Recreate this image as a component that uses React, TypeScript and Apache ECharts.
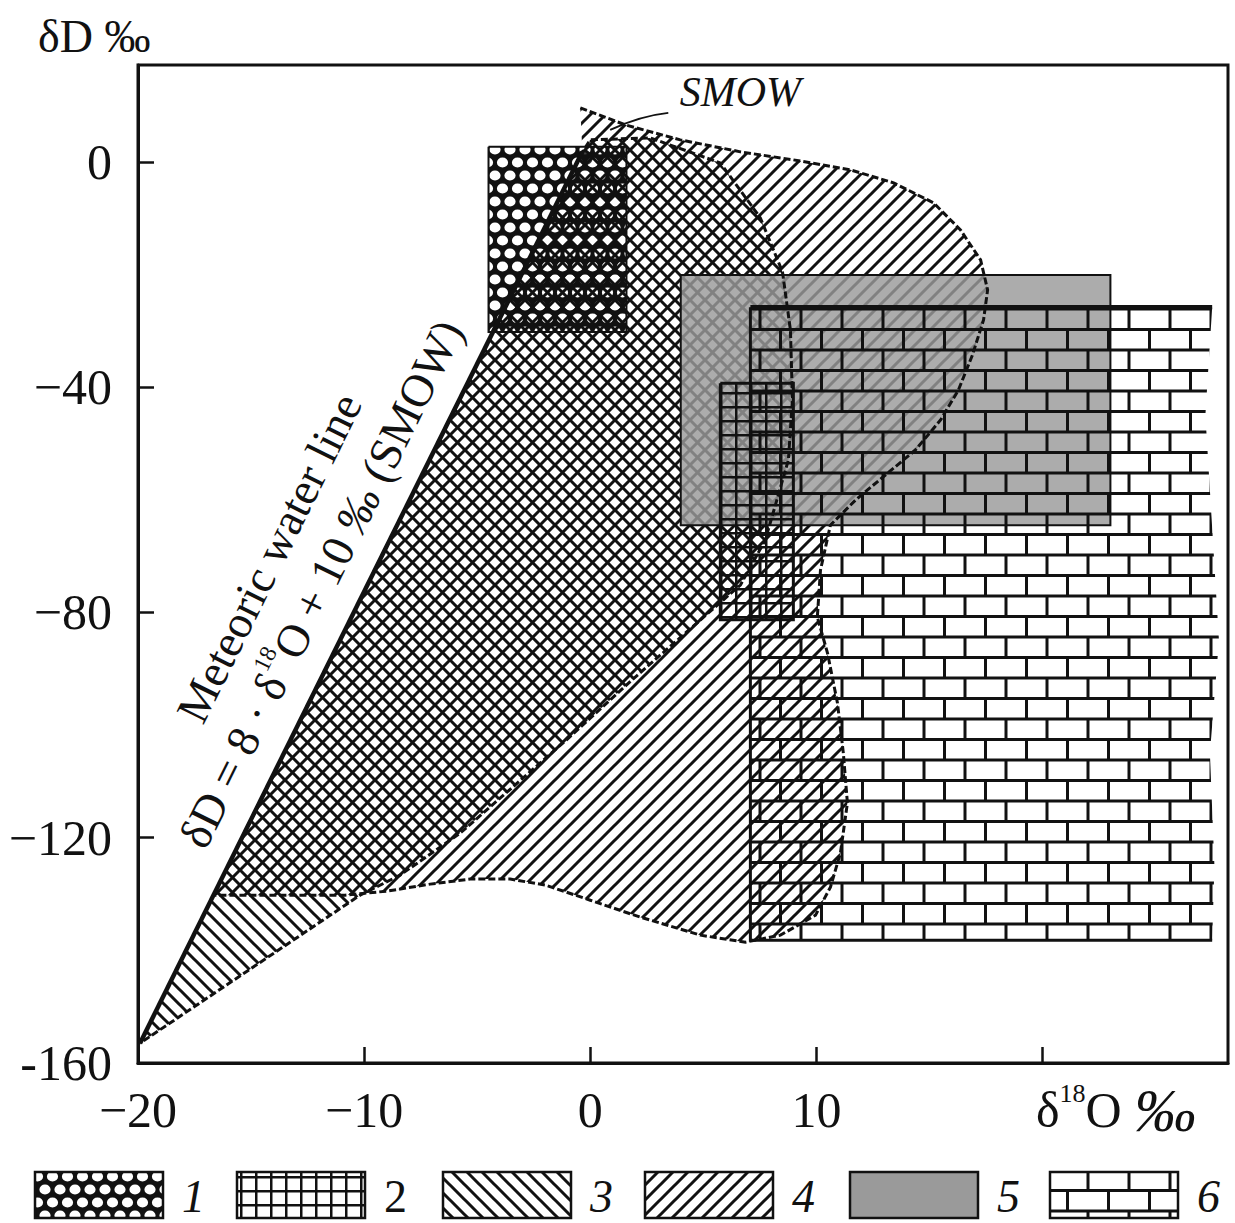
import React, { useEffect, useRef } from 'react';
import * as echarts from 'echarts';

// ---------- data (δ18O ‰, δD ‰) ----------
const xTickValues = [-20, -10, 0, 10];
const yTickValues = [0, -40, -80, -120, -160];
const yTickLabels = ['0', '−40', '−80', '−120', '-160'];

const meteoricLine = [[-19.91, -156.48], [-0.35, 1.78]];
const smowPoint = [[-0.2, 0.7]];

const region1Box = [[-4.5, 2.7], [1.6, 2.7], [1.6, -30.2], [-4.5, -30.2]];
const region2Box = [[5.75, -39.3], [8.98, -39.3], [8.98, -81.3], [5.75, -81.3]];
const region3Outline = [
  [-19.91, -156.48], [-0.35, 1.78], [0, 3.91], [2.65, 4.26], [5.75, -0.18], [7.52, -9.95],
  [8.5, -19.54], [8.85, -29.84], [8.94, -42.27], [8.76, -52.93], [7.74, -67.14], [6.64, -75.13],
  [5.62, -78.69], [1.99, -91.47], [-1.06, -102.66], [-5.75, -119.18], [-8.41, -126.64], [-10.18, -130.2],
];
const region4Outline = [
  [-0.44, 9.59], [1.55, 6.57], [3.98, 3.91], [6.64, 1.78], [8.98, 0.36], [11.5, -1.42],
  [13.41, -3.73], [15.18, -7.28], [16.37, -12.08], [17.26, -17.41], [17.57, -22.74], [17.39, -28.06],
  [16.9, -34.28], [16.28, -40.5], [15.49, -45.83], [14.38, -51.15], [13.05, -55.6], [11.73, -60.04],
  [10.62, -64.48], [10.18, -72.47], [10.04, -80.82], [10.49, -87.21], [10.93, -96.09], [11.19, -104.97],
  [11.37, -113.85], [11.06, -122.74], [10.62, -128.77], [9.96, -133.75], [8.41, -137.3], [6.86, -138.54],
  [4.87, -137.3], [2.21, -134.1], [0, -131.1], [-1.99, -128.4], [-3.54, -127.35], [-5.31, -127.35],
  [-7.08, -128.24], [-8.98, -129.48], [-10.84, -130.2], [-16.66, -130.2], [-0.35, 1.78],
];
const region5Box = [[4.0, -20.1], [23.0, -20.1], [23.0, -64.5], [4.0, -64.5]];
const region6Outline = [
  [7.08, -25.8], [27.5, -25.8], [27.2, -45], [27.5, -65], [27.8, -85], [27.4, -105],
  [27.6, -125], [27.5, -138.2], [7.08, -138.2],
];
const region6Top = [[27.5, -25.8], [7.08, -25.8]];
const region6LeftBottom = [[7.08, -25.8], [7.08, -138.2], [27.5, -138.2]];

const smowLabelPos = [6.64, 12.4];
const smowLeader = [[3.45, 8.7], [2.21, 8.17], [0.88, 5.68]];
const meteoricLabelPos = [-13.05, -72.6];

const legendLabels = ['1', '2', '3', '4', '5', '6'];

// ---------- styling helpers ----------
const SERIF = '"Liberation Serif", "DejaVu Serif", serif';
const INK = '#111';
const GRAY = '#9a9a9a';

function svgPattern(w: number, h: number, body: string) {
  const svg = `<svg xmlns="http://www.w3.org/2000/svg" width="${w}" height="${h}" viewBox="0 0 ${w} ${h}">${body}</svg>`;
  return {
    image: 'data:image/svg+xml;charset=utf-8,' + encodeURIComponent(svg),
    repeat: 'repeat',
    imageWidth: w,
    imageHeight: h,
  };
}
const ell = (cx: number, cy: number, rx: number, ry: number) =>
  `M${cx - rx} ${cy}a${rx} ${ry} 0 1 0 ${2 * rx} 0a${rx} ${ry} 0 1 0 ${-2 * rx} 0Z`;

const pat1 = () =>
  svgPattern(
    15, 26,
    `<path fill="${INK}" fill-rule="evenodd" d="M0 0H15V26H0Z ${ell(7.5, 6.5, 5.6, 5.1)} ${ell(0, 19.5, 5.6, 5.1)} ${ell(15, 19.5, 5.6, 5.1)}"/>`,
  );
const pat2 = () =>
  svgPattern(15, 14, `<path stroke="${INK}" stroke-width="2.5" fill="none" d="M0 1.25H15M1.25 0V14"/>`);
const pat3 = () =>
  svgPattern(15, 15, `<path stroke="${INK}" stroke-width="3" fill="none" d="M-1 -1L16 16M-2 13L2 17M13 -2L17 2"/>`);
const pat4 = () =>
  svgPattern(15, 15, `<path stroke="${INK}" stroke-width="3" fill="none" d="M-1 16L16 -1M-2 2L2 -2M13 17L17 13"/>`);
const pat6 = () =>
  svgPattern(82, 41, `<path stroke="${INK}" stroke-width="3" fill="none" d="M0 1.5H82M0 22H82M1.5 0V22M42.5 0V22M22 22V41M63 22V41"/>`);

function polygonSeries(pts: number[][], style: any) {
  return {
    type: 'custom',
    coordinateSystem: 'cartesian2d',
    silent: true,
    clip: false,
    z: 2,
    data: [pts[0]],
    renderItem: (_p: any, api: any) => ({
      type: 'polygon',
      shape: { points: pts.map((p) => api.coord(p)) },
      style,
    }),
  };
}
function polylineSeries(pts: number[][], style: any) {
  return {
    type: 'custom',
    coordinateSystem: 'cartesian2d',
    silent: true,
    clip: false,
    z: 3,
    data: [pts[0]],
    renderItem: (_p: any, api: any) => ({
      type: 'polyline',
      shape: { points: pts.map((p) => api.coord(p)) },
      style: { fill: 'none', ...style },
    }),
  };
}

export default function App() {
  const ref = useRef<HTMLDivElement>(null);

  useEffect(() => {
    const chart = echarts.init(ref.current!, undefined, { renderer: 'svg' });

    const dashed = { stroke: INK, lineWidth: 3, lineDash: [7, 3] };
    const legendX = [35, 237, 443, 645, 850, 1050];
    const legendFills = [pat1(), pat2(), pat3(), pat4(), GRAY, pat6()];
    const legendItalic = [true, false, true, true, true, true];

    const graphic: any[] = [
      {
        type: 'text', x: 38, y: 36,
        style: { text: 'δD ‰', fontSize: 46, fontFamily: SERIF, fill: INK, align: 'left', verticalAlign: 'middle' },
      },
      {
        type: 'text', x: 1036, y: 1110,
        style: {
          text: '{a|δ}{s|18}{a|O }{b|‰}',
          align: 'left', verticalAlign: 'middle',
          rich: {
            a: { fontSize: 50, fontFamily: SERIF, fill: INK, lineHeight: 60 },
            s: { fontSize: 26, fontFamily: SERIF, fill: INK, verticalAlign: 'top', lineHeight: 60 },
            b: { fontSize: 62, fontFamily: SERIF, fontStyle: 'italic', fill: INK, lineHeight: 60 },
          },
        },
      },
    ];
    legendLabels.forEach((lab, i) => {
      graphic.push({
        type: 'rect',
        shape: { x: legendX[i], y: 1172, width: 128, height: 46 },
        style: { fill: legendFills[i], stroke: INK, lineWidth: 2.5 },
      });
      graphic.push({
        type: 'text', x: legendX[i] + 147, y: 1196,
        style: {
          text: lab, fontSize: 46, fontFamily: SERIF, fontStyle: legendItalic[i] ? 'italic' : 'normal',
          fill: INK, align: 'left', verticalAlign: 'middle',
        },
      });
    });

    const option: any = {
      animation: false,
      backgroundColor: '#fff',
      grid: {
        left: 138, right: 7, top: 65, bottom: 160,
        show: true, borderColor: INK, borderWidth: 3, backgroundColor: 'transparent',
      },
      xAxis: {
        type: 'value', min: -20, max: 28.2, interval: 10,
        axisLine: { show: true, onZero: false, lineStyle: { color: INK, width: 3 } },
        axisTick: { show: true, inside: true, length: 16, lineStyle: { color: INK, width: 2.5 } },
        splitLine: { show: false },
        axisLabel: {
          fontSize: 50, fontFamily: SERIF, color: INK, margin: 22, showMaxLabel: false,
          formatter: (v: number) => (xTickValues.includes(v) ? (v < 0 ? '−' + Math.abs(v) : String(v)) : ''),
        },
      },
      yAxis: {
        type: 'value', min: -160, max: 17.2, interval: 40,
        axisLine: { show: true, onZero: false, lineStyle: { color: INK, width: 3 } },
        axisTick: { show: true, inside: true, length: 16, lineStyle: { color: INK, width: 2.5 } },
        splitLine: { show: false },
        axisLabel: {
          fontSize: 50, fontFamily: SERIF, color: INK, margin: 26, showMaxLabel: false,
          formatter: (v: number) => {
            const i = yTickValues.indexOf(v);
            return i >= 0 ? yTickLabels[i] : '';
          },
        },
      },
      graphic,
      series: [
        polygonSeries(region3Outline, { fill: pat3() }),
        polygonSeries(region4Outline, { fill: pat4() }),
        polygonSeries(region1Box, { fill: pat1() }),
        polygonSeries(region5Box, { fill: GRAY, opacity: 0.82 }),
        polygonSeries(region2Box, { fill: pat2() }),
        polygonSeries(region6Outline, { fill: pat6() }),
        polylineSeries([...region3Outline, region3Outline[0]], dashed),
        polylineSeries(region4Outline, dashed),
        polylineSeries([...region1Box, region1Box[0]], { stroke: INK, lineWidth: 2 }),
        polylineSeries([...region5Box, region5Box[0]], { stroke: INK, lineWidth: 2 }),
        polylineSeries([...region2Box, region2Box[0]], { stroke: INK, lineWidth: 3 }),
        polylineSeries(region6Top, { stroke: INK, lineWidth: 4.5 }),
        polylineSeries(region6LeftBottom, { stroke: INK, lineWidth: 3 }),
        polylineSeries(meteoricLine, { stroke: INK, lineWidth: 4.5 }),
        {
          type: 'scatter', silent: true, z: 4, symbol: 'circle', symbolSize: 14,
          itemStyle: { color: INK }, data: smowPoint,
        },
        {
          type: 'custom', coordinateSystem: 'cartesian2d', silent: true, clip: false, z: 5,
          data: [smowLabelPos],
          renderItem: (_p: any, api: any) => {
            const c = api.coord(smowLabelPos);
            const a = api.coord(smowLeader[0]);
            const cp = api.coord(smowLeader[1]);
            const b = api.coord(smowLeader[2]);
            const m0 = api.coord(meteoricLine[0]);
            const m1 = api.coord(meteoricLine[1]);
            const ml = api.coord(meteoricLabelPos);
            const rot = Math.atan2(m0[1] - m1[1], m1[0] - m0[0]);
            return {
              type: 'group',
              children: [
                {
                  type: 'text', x: c[0], y: c[1],
                  style: {
                    text: 'SMOW', fontSize: 42, fontStyle: 'italic', fontFamily: SERIF, fill: INK,
                    align: 'center', verticalAlign: 'middle',
                  },
                },
                {
                  type: 'bezierCurve',
                  shape: { x1: a[0], y1: a[1], cpx1: cp[0], cpy1: cp[1], x2: b[0], y2: b[1] },
                  style: { fill: 'none', stroke: INK, lineWidth: 2 },
                },
                {
                  type: 'text', x: ml[0], y: ml[1], rotation: rot,
                  style: {
                    text: '{a|Meteoric water line}\n{a|δD = 8 · δ}{s|18}{a|O + 10 }{i|‰}{a| (SMOW)}',
                    align: 'center', verticalAlign: 'middle',
                    rich: {
                      a: { fontSize: 46, fontFamily: SERIF, fill: INK, lineHeight: 58 },
                      i: { fontSize: 46, fontFamily: SERIF, fontStyle: 'italic', fill: INK, lineHeight: 58 },
                      s: { fontSize: 24, fontFamily: SERIF, fill: INK, lineHeight: 58, verticalAlign: 'top' },
                    },
                  },
                },
              ],
            };
          },
        },
      ],
    };

    chart.setOption(option);
    return () => chart.dispose();
  }, []);

  return (
    <div
      ref={ref}
      style={{ position: 'fixed', left: 0, top: 0, width: 1235, height: 1223, background: '#fff' }}
    />
  );
}
